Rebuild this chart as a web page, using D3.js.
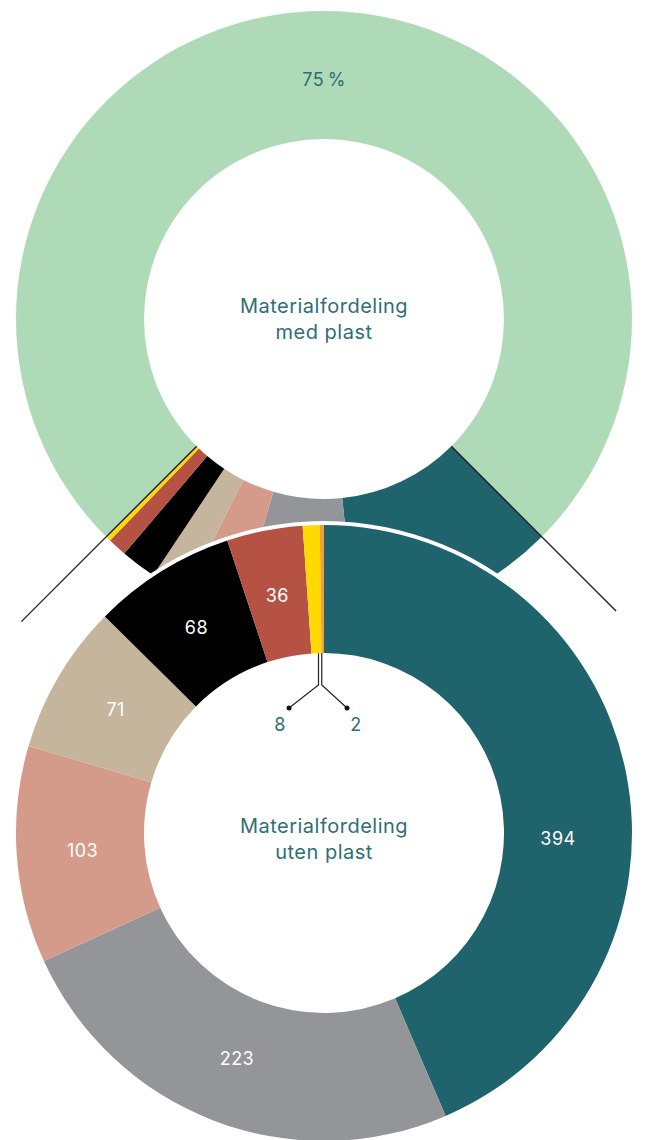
<!DOCTYPE html>
<meta charset="utf-8">
<style>
body { margin: 0; background: #fff; }
.center { font: 20px Inter, "Noto Sans", sans-serif; letter-spacing: 0.5px; fill: #2e6f75; text-anchor: middle; }
.label { font: 18px Inter, "Noto Sans", sans-serif; letter-spacing: 0.4px; text-anchor: middle; }
</style>
<svg width="646" height="1140"></svg>
<script src="https://d3js.org/d3.v7.min.js"></script>
<script>

// materials (clockwise from top in the lower ring)
var materials = ["Papir", "Glass", "Metall", "Tre", "Tekstil", "Elektronikk", "Farlig avfall", "Annet"];
var values = [394, 223, 103, 71, 68, 36, 8, 2];
var colors = ["#1f646c", "#939598", "#d59b8a", "#c4b59c", "#000000", "#b65244", "#ffd900", "#f0a03a"];
var labelColors = ["#fff", "#fff", "#fff", "#fff", "#fff", "#fff", "#2e6f75", "#2e6f75"];
var plastShare = 75;          // percent in upper ring
var plastColor = "#aedab8";

var svg = d3.select("svg"),
    cx = 324,
    outerR = 308,
    innerR = 180;

var topG = svg.append("g").attr("transform", "translate(" + cx + ",319)");
var botG = svg.append("g").attr("transform", "translate(" + cx + ",833)");

var arc = d3.arc().innerRadius(innerR).outerRadius(outerR);
var rad = Math.PI / 180;

// ---- upper ring: rest (25%) at the bottom, plast above ----
var restSpan = (100 - plastShare) / 100 * 2 * Math.PI,
    restStart = Math.PI - restSpan / 2;

var angle = d3.scaleLinear()
    .domain([0, d3.sum(values)])
    .range([restStart, restStart + restSpan]);

var cum = d3.cumsum(values);
var topSlices = values.map(function(v, i) {
  return { startAngle: angle(cum[i] - v), endAngle: angle(cum[i]), color: colors[i] };
});
topSlices.push({ startAngle: restStart + restSpan, endAngle: restStart + 2 * Math.PI, color: plastColor });

topG.selectAll("path")
  .data(topSlices)
  .enter().append("path")
    .attr("d", arc)
    .attr("fill", function(d) { return d.color; });

var plastLabelArc = d3.arc().innerRadius(239).outerRadius(239);
var pc = plastLabelArc.centroid(topSlices[topSlices.length - 1]);
topG.append("text")
    .attr("class", "label")
    .attr("x", pc[0]).attr("y", pc[1])
    .attr("dy", "0.35em")
    .attr("fill", "#2e6f75")
    .text(plastShare + "\u2009%");

// leader lines from upper ring rest segment
[[restStart, 413], [restStart + restSpan, 428]].forEach(function(e) {
  topG.append("line")
      .attr("x1", Math.sin(e[0]) * innerR).attr("y1", -Math.cos(e[0]) * innerR)
      .attr("x2", Math.sin(e[0]) * e[1]).attr("y2", -Math.cos(e[0]) * e[1])
      .attr("stroke", "#1a1a1a")
      .attr("stroke-width", 1.3);
});

topG.append("text").attr("class", "center").attr("y", -6).text("Materialfordeling");
topG.append("text").attr("class", "center").attr("y", 20).text("med plast");

// ---- lower ring ----
botG.append("circle").attr("r", outerR + 4).attr("fill", "#fff");

var pie = d3.pie().sort(null).value(function(d) { return d; });
var botSlices = pie(values);

botG.selectAll("path")
  .data(botSlices)
  .enter().append("path")
    .attr("d", arc)
    .attr("fill", function(d, i) { return colors[i]; });

var labelArc = d3.arc().innerRadius(242).outerRadius(242);
botG.selectAll("text.label")
  .data(botSlices.filter(function(d) { return d.value > 20; }))
  .enter().append("text")
    .attr("class", "label")
    .attr("transform", function(d) {
      var c = d.index === 0
        ? [Math.sin(91.5 * rad) * 234, -Math.cos(91.5 * rad) * 234]
        : labelArc.centroid(d);
      return "translate(" + c + ")";
    })
    .attr("dy", "0.35em")
    .attr("fill", function(d) { return labelColors[d.index]; })
    .text(function(d) { return d.value; });

// small slices: leaders into the hole
var small = botSlices.filter(function(d) { return d.value <= 20; });
small.forEach(function(d, k) {
  var a = (d.startAngle + d.endAngle) / 2,
      x0 = Math.sin(a) * innerR + (k === 0 ? 2 : -1),
      y0 = -Math.cos(a) * innerR,
      side = k === 0 ? -1 : 1,
      yb = -innerR + 32,
      xd = side * 27 - 4 + (k === 0 ? 0 : 4);
  botG.append("path")
      .attr("d", "M" + x0 + "," + y0 + "V" + yb + "L" + (xd - 4) + "," + (yb + 23))
      .attr("fill", "none")
      .attr("stroke", "#222")
      .attr("stroke-width", 1.2);
  botG.append("circle")
      .attr("cx", xd - 4).attr("cy", yb + 23).attr("r", 2.5)
      .attr("fill", "#111");
  botG.append("text")
      .attr("class", "label")
      .attr("x", xd - 4 + side * 9).attr("y", yb + 46)
      .attr("fill", labelColors[d.index])
      .text(d.value);
});

botG.append("text").attr("class", "center").attr("y", 0).text("Materialfordeling");
botG.append("text").attr("class", "center").attr("y", 26).text("uten plast");

</script>
